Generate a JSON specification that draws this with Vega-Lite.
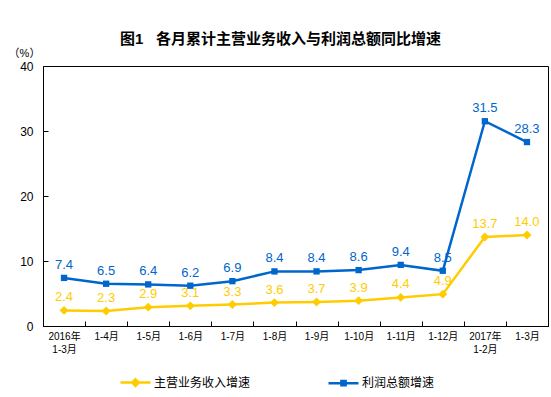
{
  "$schema": "https://vega.github.io/schema/vega-lite/v6.json",
  "width": 505,
  "height": 260,
  "autosize": {"type": "none"},
  "padding": {"left": 43, "top": 66, "right": 3, "bottom": 71},
  "background": "white",
  "title": {
    "text": "图1\u00a0\u00a0\u00a0各月累计主营业务收入与利润总额同比增速",
    "font": "Liberation Sans, Noto Sans CJK SC",
    "fontSize": 15,
    "fontWeight": "bold",
    "color": "#000",
    "anchor": "middle",
    "dx": -15,
    "offset": 0
  },
  "config": {
    "view": {"stroke": "#000", "strokeWidth": 1},
    "font": "Liberation Sans, Noto Sans CJK SC",
    "axis": {"domainColor": "#000", "tickColor": "#000", "labelColor": "#000", "grid": false}
  },
  "data": {
    "values": [
      {"m": "2016年|1-3月", "s": "主营业务收入增速", "v": 2.4},
      {"m": "1-4月", "s": "主营业务收入增速", "v": 2.3},
      {"m": "1-5月", "s": "主营业务收入增速", "v": 2.9},
      {"m": "1-6月", "s": "主营业务收入增速", "v": 3.1},
      {"m": "1-7月", "s": "主营业务收入增速", "v": 3.3},
      {"m": "1-8月", "s": "主营业务收入增速", "v": 3.6},
      {"m": "1-9月", "s": "主营业务收入增速", "v": 3.7},
      {"m": "1-10月", "s": "主营业务收入增速", "v": 3.9},
      {"m": "1-11月", "s": "主营业务收入增速", "v": 4.4},
      {"m": "1-12月", "s": "主营业务收入增速", "v": 4.9},
      {"m": "2017年|1-2月", "s": "主营业务收入增速", "v": 13.7},
      {"m": "1-3月", "s": "主营业务收入增速", "v": 14.0},
      {"m": "2016年|1-3月", "s": "利润总额增速", "v": 7.4},
      {"m": "1-4月", "s": "利润总额增速", "v": 6.5},
      {"m": "1-5月", "s": "利润总额增速", "v": 6.4},
      {"m": "1-6月", "s": "利润总额增速", "v": 6.2},
      {"m": "1-7月", "s": "利润总额增速", "v": 6.9},
      {"m": "1-8月", "s": "利润总额增速", "v": 8.4},
      {"m": "1-9月", "s": "利润总额增速", "v": 8.4},
      {"m": "1-10月", "s": "利润总额增速", "v": 8.6},
      {"m": "1-11月", "s": "利润总额增速", "v": 9.4},
      {"m": "1-12月", "s": "利润总额增速", "v": 8.5},
      {"m": "2017年|1-2月", "s": "利润总额增速", "v": 31.5},
      {"m": "1-3月", "s": "利润总额增速", "v": 28.3}
    ]
  },
  "encoding": {
    "x": {
      "field": "m",
      "type": "nominal",
      "sort": null,
      "scale": {"paddingInner": 0, "paddingOuter": 0},
      "axis": {
        "title": null,
        "labelExpr": "split(datum.label, '|')",
        "labelAngle": 0,
        "labelFontSize": 10,
        "labelLineHeight": 13,
        "labelBaseline": "top",
        "tickBand": "extent",
        "tickSize": -5,
        "labelPadding": 10
      }
    },
    "y": {
      "field": "v",
      "type": "quantitative",
      "scale": {"domain": [0, 40], "nice": false},
      "axis": {
        "values": [0, 10, 20, 30, 40],
        "tickSize": -5,
        "labelPadding": 15,
        "labelFontSize": 12,
        "title": "（%）",
        "titleAngle": 0,
        "titleFontSize": 11,
        "titleFontWeight": "normal",
        "titleX": -19,
        "titleY": -13,
        "titleAlign": "center",
        "titleBaseline": "middle"
      }
    },
    "color": {
      "field": "s",
      "type": "nominal",
      "scale": {"domain": ["主营业务收入增速", "利润总额增速"], "range": ["#FFCC00", "#0066CC"]},
      "legend": {
        "title": null,
        "orient": "none",
        "legendX": 76,
        "legendY": 300,
        "direction": "horizontal",
        "symbolSize": 900,
        "symbolStrokeWidth": 2.5,
        "labelFontSize": 12,
        "labelColor": "#000",
        "labelOffset": 2,
        "columnPadding": 72,
        "encode": {
          "symbols": {
            "update": {
              "shape": {"signal": "datum.value === '主营业务收入增速' ? 'M-1,0H1M0,-0.22L0.22,0L0,0.22L-0.22,0Z' : 'M-1,0H1M-0.14,-0.14H0.14V0.14H-0.14Z'"},
              "fill": {"scale": "color", "field": "value"},
              "stroke": {"scale": "color", "field": "value"},
              "fillOpacity": {"value": 1},
              "strokeOpacity": {"value": 1}
            }
          }
        }
      }
    }
  },
  "layer": [
    {
      "mark": {"type": "line", "strokeWidth": 2.5}
    },
    {
      "transform": [{"filter": "datum.s === '主营业务收入增速'"}],
      "mark": {"type": "point", "filled": true, "opacity": 1, "shape": "diamond", "size": 80}
    },
    {
      "transform": [{"filter": "datum.s === '利润总额增速'"}],
      "mark": {"type": "point", "filled": true, "opacity": 1, "shape": "square", "size": 40}
    },
    {
      "mark": {"type": "text", "dy": -13, "fontSize": 13, "baseline": "middle"},
      "encoding": {
        "text": {"field": "v", "type": "quantitative", "format": ".1f"}
      }
    }
  ]
}
